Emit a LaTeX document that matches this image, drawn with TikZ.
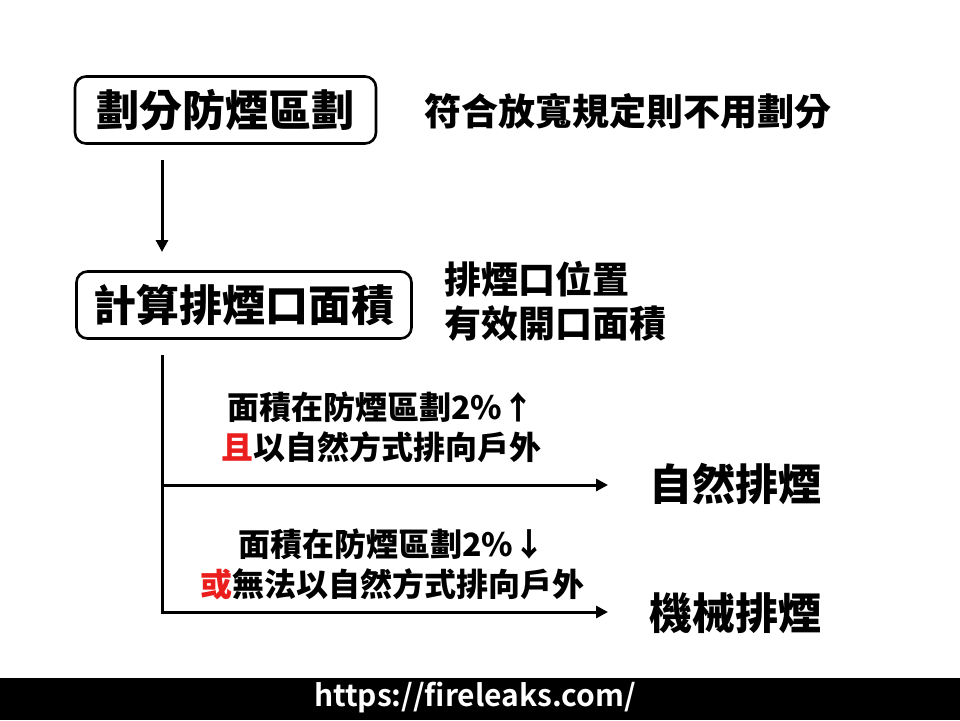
\documentclass[tikz,border=0pt]{standalone}
\usepackage{fontspec}
\usetikzlibrary{arrows.meta}
\newfontfamily\cjk{Noto Sans CJK TC Black}
\newfontfamily\urlfont{Noto Sans CJK TC Bold}
\definecolor{hired}{RGB}{235,30,30}
\tikzset{
  stepbox/.style={draw, line width=2.6pt, rounded corners=11pt, inner sep=0pt, font=\cjk\fontsize{43}{48}\selectfont, minimum height=67pt},
  notetext/.style={font=\cjk\fontsize{37}{44}\selectfont, inner sep=0pt},
  condtext/.style={font=\cjk\fontsize{32}{40}\selectfont, inner sep=0pt, align=center},
  resulttext/.style={font=\cjk\fontsize{43}{48}\selectfont, inner sep=0pt, anchor=west},
  flow/.style={line width=3pt, -{Triangle[length=12pt,width=12pt]}},
  trunk/.style={line width=3pt}
}
\begin{document}
\begin{tikzpicture}[x=1pt,y=-1pt]
\useasboundingbox (0,0) rectangle (960,720);
\fill[white] (0,0) rectangle (960,720);
\fill[black] (0,678) rectangle (960,720);

\node[stepbox, minimum width=301pt] (box1) at (225.5,110) {劃分防煙區劃};
\node[stepbox, minimum width=335pt] (box2) at (244,305) {計算排煙口面積};

\node[notetext, anchor=west] (note1) at (424,111) {符合放寬規定則不用劃分};
\node[notetext, anchor=west, align=left] (note2) at (444,301) {排煙口位置\\有效開口面積};

\coordinate (a1s) at (162,160);
\coordinate (a1e) at (162,252);
\draw[flow] (a1s) -- (a1e);

\coordinate (top) at (162,355);
\coordinate (j1) at (162,485);
\coordinate (j2) at (162,612);
\coordinate (e1) at (608,485);
\coordinate (e2) at (608,612);
\draw[trunk] (top) -- ([yshift=1.5pt]j2);
\draw[flow] ([xshift=-1.5pt]j1) -- (e1);
\draw[flow] ([xshift=-1.5pt]j2) -- (e2);

\node[condtext] (cond1) at (381,427) {面積在防煙區劃2\%↑\\{\color{hired}且}以自然方式排向戶外};
\node[condtext] (cond2) at (392,564) {面積在防煙區劃2\%↓\\{\color{hired}或}無法以自然方式排向戶外};

\node[resulttext] (nat) at (649,484) {自然排煙};
\node[resulttext] (mech) at (649,613) {機械排煙};

\node[font=\urlfont\fontsize{30}{32}\selectfont, text=white, inner sep=0pt] (url) at (475,698) {https://fireleaks.com/};
\end{tikzpicture}
\end{document}
